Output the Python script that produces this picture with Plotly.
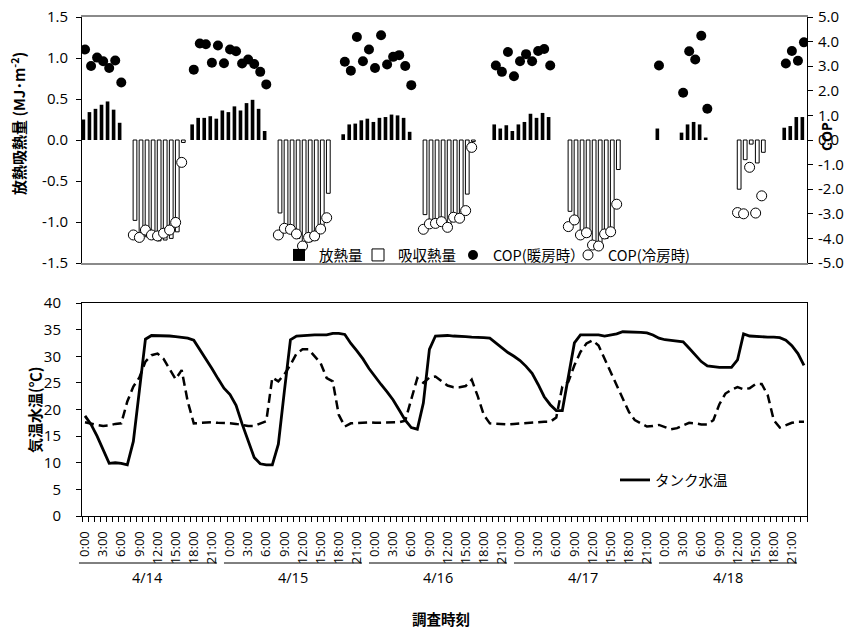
import plotly.graph_objects as go

N = None

# ---------------- data ----------------
hours = list(range(120))                      # 4/14 0:00 ... 4/18 23:00, hourly
hour_labels = ["0:00", "3:00", "6:00", "9:00", "12:00", "15:00", "18:00", "21:00"]
day_labels = ["4/14", "4/15", "4/16", "4/17", "4/18"]

# 放熱量 (MJ/m2), one row per day
heat_release = (
    [0.25, 0.34, 0.38, 0.43, 0.47, 0.37, 0.21] + [N] * 11 + [0.19, 0.27, 0.27, 0.29, 0.26, 0.36]
    + [0.34, 0.41, 0.36, 0.45, 0.49, 0.38, 0.11] + [N] * 12 + [0.07, 0.19, 0.20, 0.24, 0.26]
    + [0.22, 0.27, 0.28, 0.31, 0.30, 0.27, 0.10] + [N] * 13 + [0.19, 0.14, 0.18, 0.11]
    + [0.19, 0.22, 0.32, 0.27, 0.33, 0.28] + [N] * 17 + [0.14]
    + [N] * 3 + [0.09, 0.19, 0.22, 0.19, 0.03] + [N] * 12 + [0.15, 0.17, 0.28, 0.28]
)

# 吸収熱量 (MJ/m2)
heat_absorb = (
    [N] * 8 + [-0.98, -1.15, -1.18, -1.21, -1.23, -1.22, -1.20, -1.12, -0.03] + [N] * 7
    + [N] * 8 + [-0.89, -1.08, -1.10, -1.20, -1.32, -1.24, -1.22, -1.10, -0.65] + [N] * 7
    + [N] * 8 + [-0.91, -0.99, -1.02, -0.99, -1.04, -0.98, -0.96, -0.66, -0.02] + [N] * 7
    + [N] * 8 + [-0.87, -1.02, -1.12, -1.18, -1.28, -1.30, -1.20, -1.16, -0.36] + [N] * 7
    + [N] * 12 + [-0.60, -0.24, -0.05, -0.28, -0.15] + [N] * 7
)

# COP (暖房時)
cop_heating = (
    [3.68, 3.01, 3.35, 3.20, 2.93, 3.23, 2.34] + [N] * 11 + [2.86, 3.92, 3.89, 3.14, 3.84, 3.12]
    + [3.68, 3.61, 3.11, 3.27, 3.09, 2.77, 2.26] + [N] * 12 + [3.18, 2.82, 4.19, 3.20, 3.68]
    + [2.93, 4.26, 3.07, 3.38, 3.45, 3.01, 2.23] + [N] * 13 + [3.03, 2.77, 3.58, 2.59]
    + [3.20, 3.49, 3.20, 3.62, 3.70, 3.03] + [N] * 17 + [3.03]
    + [N] * 3 + [1.92, 3.61, 3.27, 4.24, 1.27] + [N] * 12 + [3.11, 3.62, 3.22, 3.97]
)

# COP (冷房時)
cop_cooling = (
    [N] * 8 + [-3.86, -3.96, -3.66, -3.86, -3.90, -3.79, -3.66, -3.35, -0.91] + [N] * 7
    + [N] * 8 + [-3.86, -3.59, -3.63, -3.82, -4.31, -3.96, -3.90, -3.62, -3.16] + [N] * 7
    + [N] * 8 + [-3.63, -3.41, -3.39, -3.32, -3.55, -3.14, -3.18, -2.87, -0.30] + [N] * 7
    + [N] * 8 + [-3.52, -3.25, -3.86, -3.77, -4.27, -4.31, -3.82, -3.73, -2.61] + [N] * 7
    + [N] * 12 + [-2.95, -3.00, -1.11, -2.97, -2.27] + [N] * 7
)

# タンク水温 (°C)
tank_temp = [
    18.8, 17.2, 15.0, 12.5, 9.9, 10.0, 9.9, 9.6, 14.0, 23.6, 33.2, 33.9,
    33.9, 33.9, 33.8, 33.7, 33.6, 33.4, 33.0, 31.3, 29.5, 27.7, 25.8, 24.0,
    22.8, 20.8, 17.3, 14.0, 11.0, 9.8, 9.6, 9.6, 13.5, 23.5, 33.1, 33.8,
    33.9, 33.9, 34.0, 34.0, 34.0, 34.3, 34.3, 34.1, 32.4, 31.0, 29.5, 27.7,
    26.1, 24.7, 23.3, 21.8, 19.9, 18.0, 16.6, 16.3, 21.2, 31.3, 33.8, 33.9,
    33.9, 33.8, 33.8, 33.7, 33.6, 33.6, 33.5, 33.4, 32.5, 31.6, 30.7, 30.0,
    29.2, 28.1, 26.8, 24.7, 22.4, 20.9, 19.8, 19.8, 26.0, 32.5, 34.0, 34.0,
    34.0, 34.0, 33.8, 34.0, 34.2, 34.6, 34.6, 34.5, 34.5, 34.4, 34.0, 33.4,
    33.1, 33.0, 32.9, 32.7, 31.5, 30.2, 29.0, 28.2, 28.0, 27.9, 27.9, 27.9,
    29.3, 34.2, 33.8, 33.7, 33.6, 33.6, 33.6, 33.5, 33.0, 32.0, 30.5, 28.3,
]

# 気温 (°C)
air_temp = [
    17.6, 17.3, 17.1, 16.9, 17.0, 17.3, 17.4, 21.5, 24.3, 26.0, 29.0, 30.2,
    30.5, 29.5, 27.6, 25.7, 27.4, 21.5, 17.4, 17.5, 17.6, 17.6, 17.5, 17.5,
    17.4, 17.3, 17.1, 16.9, 16.9, 17.3, 17.8, 26.0, 25.3, 26.6, 28.4, 30.5,
    31.3, 31.3, 30.0, 28.7, 25.9, 25.3, 19.0, 16.8, 17.4, 17.5, 17.5, 17.6,
    17.5, 17.5, 17.5, 17.5, 17.6, 17.9, 22.0, 25.9, 25.0, 26.0, 26.2, 25.3,
    24.5, 24.2, 24.2, 24.4, 25.6, 22.5, 19.0, 17.4, 17.3, 17.3, 17.2, 17.3,
    17.4, 17.4, 17.6, 17.7, 17.7, 17.7, 18.5, 24.3, 25.2, 28.3, 30.8, 32.4,
    33.0, 32.0, 29.5, 27.0, 24.8, 22.3, 19.6, 18.0, 17.4, 16.8, 16.9, 17.1,
    16.7, 16.3, 16.5, 17.0, 17.5, 17.4, 17.2, 17.2, 18.0, 21.0, 23.0, 23.7,
    24.2, 23.8, 24.0, 24.8, 24.8, 22.7, 18.0, 16.6, 17.1, 17.5, 17.7, 17.7,
]

# ---------------- layout helpers ----------------
W, H = 857, 628
ML, MR, MT, MB = 82, 50, 17, 112
PW, PH = W - ML - MR, H - MT - MB


def px(x):
    return (x - ML) / PW


def py(y):
    return (H - MB - y) / PH


def hx(h):
    return (h + 0.5) / len(hours)


FONT = "Noto Sans CJK JP, Noto Sans, sans-serif"
NUM_FONT = "Open Sans, Noto Sans, sans-serif"

fig = go.Figure()

fig.add_trace(go.Bar(
    x=hours, y=heat_release, name="放熱量", xaxis="x", yaxis="y",
    marker=dict(color="black", line=dict(width=0)), width=0.6, offset=-0.57,
    legend="legend"))
fig.add_trace(go.Bar(
    x=hours, y=heat_absorb, name="吸収熱量", xaxis="x", yaxis="y",
    marker=dict(color="white", line=dict(color="black", width=1)), width=0.62, offset=-0.04,
    legend="legend2"))
fig.add_trace(go.Scatter(
    x=hours, y=cop_heating, mode="markers", name="COP(暖房時）", xaxis="x", yaxis="y2",
    marker=dict(symbol="circle", size=10, color="black", line=dict(width=0)),
    legend="legend3"))
fig.add_trace(go.Scatter(
    x=hours, y=cop_cooling, mode="markers", name="COP(冷房時)", xaxis="x", yaxis="y2",
    marker=dict(symbol="circle", size=10, color="white", line=dict(color="black", width=1)),
    legend="legend4"))
fig.add_trace(go.Scatter(
    x=hours, y=air_temp, mode="lines", name="気温", xaxis="x2", yaxis="y3",
    line=dict(color="black", width=2.5, dash="9px,5px"), showlegend=False))
fig.add_trace(go.Scatter(
    x=hours, y=tank_temp, mode="lines", name="タンク水温", xaxis="x2", yaxis="y3",
    line=dict(color="black", width=2.8), legend="legend5"))

top_dom = [py(263), 1.0]
bot_dom = [0.0, py(303)]

left_vals = [-1.5 + 0.5 * i for i in range(7)]
right_vals = [-5 + i for i in range(11)]
temp_vals = [5 * i for i in range(9)]

tickvals_x = [d * 24 + int(lbl.split(":")[0]) for d in range(len(day_labels)) for lbl in hour_labels]
ticktext_x = hour_labels * len(day_labels)

axis_common = dict(showgrid=False, zeroline=False, automargin=False)


def legend_at(text_left, y_center):
    return dict(x=px(text_left - 40), y=py(y_center), xanchor="left", yanchor="middle",
                orientation="h", bgcolor="rgba(0,0,0,0)", borderwidth=0,
                font=dict(size=14.5, family=FONT, color="black"))


fig.update_layout(
    width=W, height=H,
    margin=dict(l=ML, r=MR, t=MT, b=MB, pad=0),
    paper_bgcolor="white", plot_bgcolor="white",
    font=dict(family=FONT, size=14, color="black"),
    barmode="overlay",
    xaxis=dict(domain=[0, 1], anchor="y", range=[-0.5, 119.5], showticklabels=False, ticks="",
               showline=True, linecolor="#8a8a8a", linewidth=1.5, mirror=True, **axis_common),
    yaxis=dict(domain=top_dom, anchor="x", range=[-1.5, 1.5], tickmode="array",
               tickvals=left_vals, ticktext=[f"{v:.1f}" for v in left_vals],
               ticks="outside", ticklen=5, tickcolor="black", ticklabelstandoff=5,
               showline=True, linecolor="black", linewidth=1,
               tickfont=dict(size=15, family=NUM_FONT), **axis_common),
    yaxis2=dict(overlaying="y", side="right", anchor="x", range=[-5, 5], tickmode="array",
                tickvals=right_vals, ticktext=[f"{v:.1f}" for v in right_vals],
                ticks="outside", ticklen=5, tickcolor="black", ticklabelstandoff=2,
                showline=True, linecolor="black", linewidth=1,
                tickfont=dict(size=15, family=NUM_FONT), **axis_common),
    xaxis2=dict(domain=[0, 1], anchor="y3", range=[-0.5, 119.5], tickmode="array",
                tickvals=tickvals_x, ticktext=ticktext_x, tickangle=-90, ticks="",
                ticklabelstandoff=9, tickfont=dict(size=13, family=NUM_FONT),
                minor=dict(ticks="outside", ticklen=5, tickcolor="black", tickmode="linear",
                           tick0=-0.5, dtick=1),
                showline=True, linecolor="black", linewidth=1, mirror=True, **axis_common),
    yaxis3=dict(domain=bot_dom, anchor="x2", range=[0, 40], tickmode="array",
                tickvals=temp_vals, ticktext=[str(v) for v in temp_vals],
                ticks="outside", ticklen=5, tickcolor="black", ticklabelstandoff=12,
                showline=True, linecolor="black", linewidth=1, mirror=True,
                tickfont=dict(size=15, family=NUM_FONT), **axis_common),
    legend=legend_at(319, 255),
    legend2=legend_at(398, 255),
    legend3=legend_at(493, 255),
    legend4=legend_at(608, 255),
    legend5=legend_at(655, 480),
)

annotations = [
    dict(text="<b>放熱吸熱量 (MJ･m<sup>-2</sup>)</b>", x=px(18), y=py(124), textangle=-90,
         font=dict(size=15)),
    dict(text="<b>COP</b>", x=px(826), y=py(137), textangle=-90, font=dict(size=14, family=NUM_FONT)),
    dict(text="<b>気温水温(℃)</b>", x=px(34), y=py(410), textangle=-90, font=dict(size=15)),
    dict(text="<b>調査時刻</b>", x=px(441), y=py(618), font=dict(size=14.5)),
]
shapes = []
for k, lbl in enumerate(day_labels):
    h0 = 24 * k
    annotations.append(dict(text=lbl, x=hx(h0 + 10.4), y=py(577),
                            font=dict(size=14.5, family=NUM_FONT)))
    shapes.append(dict(type="line", xref="paper", yref="paper",
                       x0=hx(h0 - 1), x1=hx(h0 + 21.85), y0=py(563), y1=py(563),
                       line=dict(color="black", width=1)))

for a in annotations:
    a.update(xref="paper", yref="paper", showarrow=False, xanchor="center", yanchor="middle")

fig.update_layout(annotations=annotations, shapes=shapes)

# the page is photographed at 857x628: drop the browser's default body margin, no modebar
fig.write_html("out.html", config={"displayModeBar": False},
               post_script="document.body.style.margin='0px';")
